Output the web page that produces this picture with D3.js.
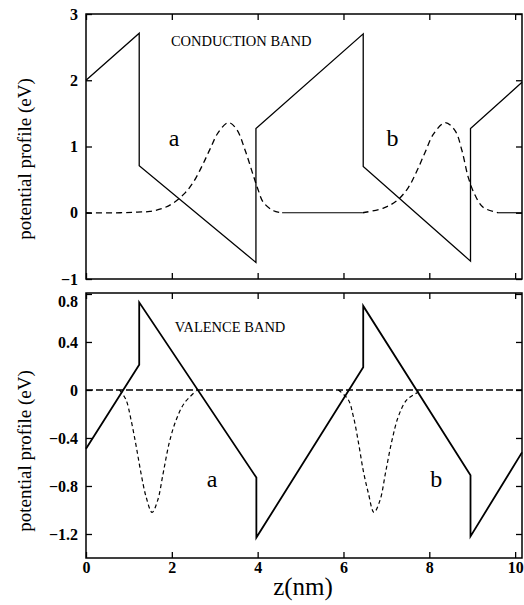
<!DOCTYPE html>
<html>
  <head>
    <meta charset="utf-8">
    <script src="https://d3js.org/d3.v7.min.js"></script>
    <title>Potential profile</title>
    <style>
      body {
        margin: 0px;
        background: #fff;
      }
      text {
        font-family: 'Liberation Serif', 'Times New Roman', serif;
        fill: #000;
      }
      .tick text {
        font-size: 16px;
        font-weight: bold;
      }
      .tick line {
        stroke: #000;
        stroke-width: 1.3;
      }
      .domain {
        display: none;
      }
    </style>
  </head>
  <body>
    <svg width="524" height="605"></svg>
    <script>
      // tick values
      const zTicks = [0, 2, 4, 6, 8, 10];
      const cbTicks = [-1, 0, 1, 2, 3];
      const vbTicks = [0.8, 0.4, 0, -0.4, -0.8, -1.2];

      // conduction band profile (corners)
      const cbZ = [0, 1.24, 1.24, 3.96, 3.96, 6.46, 6.46, 8.96, 8.96, 10.16];
      const cbE = [2.0, 2.71, 0.71, -0.75, 1.27, 2.70, 0.70, -0.73, 1.27, 1.97];

      // valence band profile (corners)
      const vbZ = [0, 1.24, 1.24, 3.97, 3.97, 6.46, 6.46, 8.96, 8.96, 10.16];
      const vbE = [-0.49, 0.21, 0.73, -0.73, -1.23, 0.19, 0.70, -0.71, -1.22, -0.52];

      // electron wavefunctions (dashed), wells a and b
      const psiAz = [0, 0.8, 1.2, 1.49, 1.8, 2.04, 2.31, 2.5, 2.7, 2.89, 3.08, 3.32, 3.51, 3.71, 3.9, 4.02, 4.13, 4.37, 4.57];
      const psiAe = [0, 0, 0.01, 0.02, 0.07, 0.15, 0.3, 0.46, 0.7, 0.96, 1.21, 1.36, 1.26, 0.94, 0.56, 0.33, 0.16, 0.03, 0];
      const psiBz = [6.45, 6.93, 7.24, 7.51, 7.71, 7.9, 8.1, 8.37, 8.6, 8.76, 8.91, 9.07, 9.26, 9.6];
      const psiBe = [0, 0.07, 0.18, 0.38, 0.63, 0.91, 1.19, 1.36, 1.24, 0.94, 0.53, 0.26, 0.08, 0];

      // solid zero level between the electron wavefunctions
      const cbZeroFrom = [4.57, 9.6];
      const cbZeroTo = [6.45, 10.16];

      // hole wavefunctions (dashed), wells a and b
      const psiVaZ = [0.78, 0.93, 1.05, 1.17, 1.28, 1.4, 1.54, 1.67, 1.8, 1.94, 2.1, 2.29, 2.56];
      const psiVaE = [0, -0.08, -0.25, -0.47, -0.69, -0.89, -1.02, -0.92, -0.69, -0.44, -0.25, -0.11, -0.01];
      const psiVbZ = [5.88, 6.11, 6.23, 6.35, 6.46, 6.58, 6.71, 6.85, 6.99, 7.13, 7.28, 7.48, 7.79];
      const psiVbE = [0, -0.08, -0.22, -0.44, -0.67, -0.86, -1.02, -0.92, -0.67, -0.42, -0.22, -0.08, -0.01];

      const zip = (xs, ys) => xs.map((x, i) => [x, ys[i]]);

      const svg = d3.select('svg');
      const left = 86;
      const right = 522;

      const xScale = d3.scaleLinear().domain([0, 10.16]).range([left, right]);
      const yTop = d3.scaleLinear().domain([-1, 3]).range([279, 14]);
      const yBot = d3.scaleLinear().domain([-1.4, 0.808]).range([558, 293]);

      const drawFrame = (y, ticks, showX) => {
        const [y0, y1] = y.range();
        const g = svg.append('g');

        g.append('g')
            .attr('transform', `translate(0,${y0})`)
            .call(d3.axisBottom(xScale).tickValues(zTicks).tickSize(-6).tickPadding(4)
              .tickFormat(showX ? d3.format('d') : ''));
        g.append('g')
            .attr('transform', `translate(0,${y1})`)
            .call(d3.axisTop(xScale).tickValues(zTicks).tickSize(-6).tickFormat(''));
        const yAxisG = g.append('g')
            .attr('transform', `translate(${left},0)`)
            .call(d3.axisLeft(y).tickValues(ticks).tickSize(-6).tickPadding(8)
              .tickFormat(d => d3.format('')(d).replace('-', '\u2212')));
        g.append('g')
            .attr('transform', `translate(${right},0)`)
            .call(d3.axisRight(y).tickValues(ticks).tickSize(-6).tickFormat(''));

        g.append('rect')
            .attr('x', left)
            .attr('y', y1)
            .attr('width', right - left)
            .attr('height', y0 - y1)
            .attr('fill', 'none')
            .attr('stroke', '#000')
            .attr('stroke-width', 1.5);
        return yAxisG;
      };

      const topAxis = drawFrame(yTop, cbTicks, false);
      const botAxis = drawFrame(yBot, vbTicks, true);
      botAxis.selectAll('.tick text').filter(d => d === 0.8).attr('y', 7);

      const plot = (y, pts, width, dash, curve) => {
        const line = d3.line()
          .x(d => xScale(d[0]))
          .y(d => y(d[1]))
          .curve(curve || d3.curveLinear);
        svg.append('path')
            .datum(pts)
            .attr('d', line)
            .attr('fill', 'none')
            .attr('stroke', '#000')
            .attr('stroke-width', width)
            .attr('stroke-dasharray', dash);
      };

      // top panel
      plot(yTop, zip(cbZ, cbE), 1.3, null);
      plot(yTop, zip(psiAz, psiAe), 1.3, '6,4', d3.curveCatmullRom);
      plot(yTop, zip(psiBz, psiBe), 1.3, '6,4', d3.curveCatmullRom);
      cbZeroFrom.forEach((z, i) => plot(yTop, [[z, 0], [cbZeroTo[i], 0]], 1.1, null));

      // bottom panel
      plot(yBot, [[0, 0], [10.16, 0]], 1.6, '7,3');
      plot(yBot, zip(psiVaZ, psiVaE), 1.2, '4,3', d3.curveCatmullRom);
      plot(yBot, zip(psiVbZ, psiVbE), 1.2, '4,3', d3.curveCatmullRom);
      plot(yBot, zip(vbZ, vbE), 1.8, null);

      const label = (y, z, e, txt, size) => svg.append('text')
          .attr('x', xScale(z))
          .attr('y', y(e))
          .style('font-size', size + 'px')
          .text(txt);

      label(yTop, 1.98, 2.51, 'CONDUCTION BAND', 14.5);
      label(yBot, 2.07, 0.486, 'VALENCE BAND', 14.5);
      label(yTop, 2.05, 1.01, 'a', 24).attr('text-anchor', 'middle');
      label(yTop, 7.14, 1.01, 'b', 24).attr('text-anchor', 'middle');
      label(yBot, 2.94, -0.81, 'a', 24).attr('text-anchor', 'middle');
      label(yBot, 8.16, -0.81, 'b', 24).attr('text-anchor', 'middle');

      [159, 451].forEach(cy => {
        svg.append('text')
            .attr('transform', `translate(31,${cy}) rotate(-90)`)
            .attr('text-anchor', 'middle')
            .style('font-size', '19px')
            .text('potential profile (eV)');
      });

      svg.append('text')
          .attr('x', 303)
          .attr('y', 595)
          .attr('text-anchor', 'middle')
          .style('font-size', '25px')
          .text('z(nm)');
    </script>
  </body>
</html>
